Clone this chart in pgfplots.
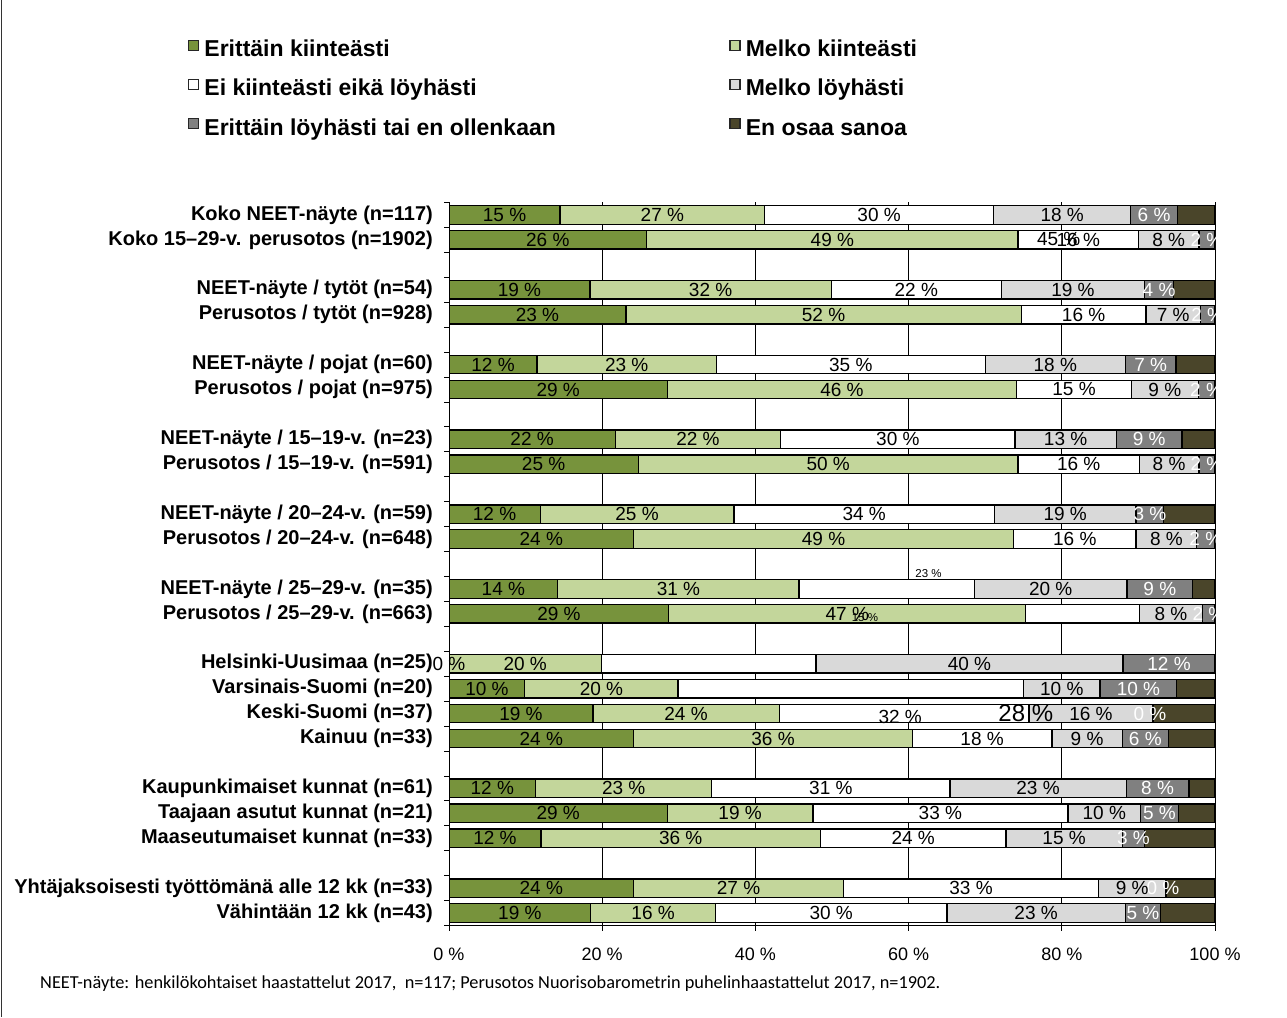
\documentclass[border=0pt]{standalone}
\usepackage{pgfplots}
\usepackage{pgfplotstable}
\pgfplotsset{compat=1.18}
\usepackage{fontspec}
\setmainfont{Liberation Sans}
\newfontfamily\carlito{Carlito}

\definecolor{cA}{HTML}{77933C}
\definecolor{cB}{HTML}{C3D69B}
\definecolor{cC}{HTML}{FFFFFF}
\definecolor{cD}{HTML}{D9D9D9}
\definecolor{cE}{HTML}{808080}
\definecolor{cF}{HTML}{4A452A}

% Erittain kiinteasti
\pgfplotstableread{
s v lab
0 14.5 {15 \%}
1 25.8 {26 \%}
3 18.4 {19 \%}
4 23.1 {23 \%}
6 11.5 {12 \%}
7 28.5 {29 \%}
9 21.7 {22 \%}
10 24.7 {25 \%}
12 11.9 {12 \%}
13 24.1 {24 \%}
15 14.2 {14 \%}
16 28.7 {29 \%}
18 0 {}
19 9.9 {10 \%}
20 18.8 {19 \%}
21 24.1 {24 \%}
23 11.3 {12 \%}
24 28.5 {29 \%}
25 12.0 {12 \%}
27 24.1 {24 \%}
28 18.5 {19 \%}
}\tA
% Melko kiinteasti
\pgfplotstableread{
s v lab
0 26.7 {27 \%}
1 48.5 {49 \%}
3 31.5 {32 \%}
4 51.6 {52 \%}
6 23.4 {23 \%}
7 45.6 {46 \%}
9 21.6 {22 \%}
10 49.6 {50 \%}
12 25.3 {25 \%}
13 49.6 {49 \%}
15 31.5 {31 \%}
16 46.6 {47 \%}
18 19.9 {20 \%}
19 20.0 {20 \%}
20 24.3 {24 \%}
21 36.4 {36 \%}
23 23.0 {23 \%}
24 19.0 {19 \%}
25 36.5 {36 \%}
27 27.4 {27 \%}
28 16.3 {16 \%}
}\tB
% Ei kiinteasti eika loyhasti
\pgfplotstableread{
s v lab
0 29.9 {30 \%}
1 15.7 {16 \%}
3 22.2 {22 \%}
4 16.3 {16 \%}
6 35.1 {35 \%}
7 15.0 {15 \%}
9 30.6 {30 \%}
10 15.8 {16 \%}
12 34.0 {34 \%}
13 16.0 {16 \%}
15 22.9 {}
16 14.8 {}
18 28.0 {}
19 45.1 {}
20 32.6 {}
21 18.2 {18 \%}
23 31.1 {31 \%}
24 33.3 {33 \%}
25 24.2 {24 \%}
27 33.3 {33 \%}
28 30.2 {30 \%}
}\tC
% Melko loyhasti
\pgfplotstableread{
s v lab
0 17.9 {18 \%}
1 7.9 {8 \%}
3 18.7 {19 \%}
4 7.1 {7 \%}
6 18.3 {18 \%}
7 8.7 {9 \%}
9 13.2 {13 \%}
10 7.8 {8 \%}
12 18.5 {19 \%}
13 7.9 {8 \%}
15 19.9 {20 \%}
16 8.3 {8 \%}
18 40.1 {40 \%}
19 10.0 {10 \%}
20 16.2 {16 \%}
21 9.2 {9 \%}
23 23.0 {23 \%}
24 9.5 {10 \%}
25 15.2 {15 \%}
27 8.8 {9 \%}
28 23.3 {23 \%}
}\tD
% Erittain loyhasti tai en ollenkaan
\pgfplotstableread{
s v lab
0 6.1 {6 \%}
1 2.1 {2 \%}
3 3.8 {4 \%}
4 1.9 {2 \%}
6 6.6 {7 \%}
7 2.2 {2 \%}
9 8.6 {9 \%}
10 2.1 {2 \%}
12 3.6 {3 \%}
13 2.4 {2 \%}
15 8.6 {9 \%}
16 1.6 {2 \%}
18 12.0 {12 \%}
19 10.0 {10 \%}
20 0 {}
21 6.0 {6 \%}
23 8.2 {8 \%}
24 4.9 {5 \%}
25 2.9 {3 \%}
27 0 {}
28 4.6 {5 \%}
}\tE
% En osaa sanoa
\pgfplotstableread{
s v lab
0 4.9 {}
1 0 {}
3 5.4 {}
4 0 {}
6 5.1 {}
7 0 {}
9 4.3 {}
10 0 {}
12 6.7 {}
13 0 {}
15 2.9 {}
16 0 {}
18 0 {}
19 5.0 {}
20 8.1 {}
21 6.1 {}
23 3.4 {}
24 4.8 {}
25 9.2 {}
27 6.4 {}
28 7.1 {}
}\tF

\tikzset{lbl/.style={font=\fontsize{19}{22}\selectfont, inner sep=0pt, text=#1}}
\pgfplotsset{
  geom/.style={at={(449pt,91pt)}, anchor=south west, scale only axis,
    width=766pt, height=723pt, xmin=0, xmax=100, ymin=-0.5, ymax=28.5,
    y dir=reverse, xbar stacked, bar width=18.5pt},
  sq/.style={legend image code/.code={\draw[##1, draw=black!85, line width=1.4pt] (0pt,0.5pt) rectangle (10pt,10.5pt);}},
  seg/.style={fill=#1, draw=black, line width=1.3pt, sq},
  lab/.style={draw=none, fill=none, nodes near coords, point meta=explicit symbolic,
    every node near coord/.append style={anchor=center, inner sep=0pt,
      font=\fontsize{19}{22}\selectfont, text=#1}},
}

\begin{document}
\begin{tikzpicture}
\path (0,0) rectangle (1287pt,1016pt);
\draw[line width=1pt, black!80] (1.5pt,0) -- (1.5pt,1016pt);
\begin{axis}[geom,
  axis x line*=bottom, axis y line*=left, axis line style={-, line width=1pt},
  tick align=outside, major tick length=5pt, tick style={black, line width=0.8pt},
  xtick={0,20,40,60,80,100},
  xticklabels={0 \%,20 \%,40 \%,60 \%,80 \%,100 \%},
  xticklabel style={font=\fontsize{18}{21}\selectfont, inner sep=0pt, yshift=-17pt},
  xmajorgrids, grid style={black, line width=0.8pt},
  ytick={-0.5,0.5,...,28.5}, yticklabels={},
  extra y ticks={0,1,3,4,6,7,9,10,12,13,15,16,18,19,20,21,23,24,25,27,28},
  extra y tick labels={Koko NEET-näyte (n=117),Koko 15–29-v. perusotos (n=1902),NEET-näyte / tytöt (n=54),Perusotos / tytöt (n=928),NEET-näyte / pojat (n=60),Perusotos / pojat (n=975),NEET-näyte / 15–19-v. (n=23),Perusotos / 15–19-v. (n=591),NEET-näyte / 20–24-v. (n=59),Perusotos / 20–24-v. (n=648),NEET-näyte / 25–29-v. (n=35),Perusotos / 25–29-v. (n=663),Helsinki-Uusimaa (n=25),Varsinais-Suomi (n=20),Keski-Suomi (n=37),Kainuu (n=33),Kaupunkimaiset kunnat (n=61),Taajaan asutut kunnat (n=21),Maaseutumaiset kunnat (n=33),Yhtäjaksoisesti työttömänä alle 12 kk (n=33),Vähintään 12 kk (n=43)},
  extra y tick style={major tick length=0pt, yticklabel style={font=\bfseries\fontsize{20}{24}\selectfont, inner sep=0pt, xshift=-16pt}},
  legend columns=2,
  legend cell align=left,
  legend style={at={(-0.3407,1.2254)}, anchor=north west, draw=none, fill=none,
    inner sep=0pt, outer sep=0pt, column sep=5pt, row sep=17pt,
    font=\bfseries\fontsize{23}{27}\selectfont,
    nodes={inner sep=0pt, text height=17pt, text depth=5pt}},
]
\addplot[seg=cA] table[x=v, y=s]{\tA};
\addlegendentry{\makebox[520pt][l]{Erittäin kiinteästi}}
\addplot[seg=cB] table[x=v, y=s]{\tB};
\addlegendentry{Melko kiinteästi}
\addplot[seg=cC] table[x=v, y=s]{\tC};
\addlegendentry{\makebox[520pt][l]{Ei kiinteästi eikä löyhästi}}
\addplot[seg=cD] table[x=v, y=s]{\tD};
\addlegendentry{Melko löyhästi}
\addplot[seg=cE] table[x=v, y=s]{\tE};
\addlegendentry{\makebox[520pt][l]{Erittäin löyhästi tai en ollenkaan}}
\addplot[seg=cF] table[x=v, y=s]{\tF};
\addlegendentry{En osaa sanoa}
\end{axis}
\begin{axis}[geom, hide axis, clip=false]
\addplot[lab=black] table[x=v, y=s, meta=lab]{\tA};
\addplot[lab=black] table[x=v, y=s, meta=lab]{\tB};
\addplot[lab=black] table[x=v, y=s, meta=lab]{\tC};
\addplot[lab=black] table[x=v, y=s, meta=lab]{\tD};
\addplot[lab=white] table[x=v, y=s, meta=lab]{\tE};
\addplot[draw=none, fill=none] table[x=v, y=s]{\tF};
% labels of zero-width segments and misplaced labels as in the original
\node[lbl=black] at (axis cs:0,18) {0 \%};
\node[lbl=white] at (axis cs:91.5,20) {0 \%};
\node[lbl=white] at (axis cs:93.2,27) {0 \%};
\node[lbl=black] at (axis cs:58.9,20.15) {32 \%};
\node[lbl=black] at (axis cs:79.6,0.97) {45 \%};
\node[font=\fontsize{24}{28}\selectfont, inner sep=0pt] at (axis cs:75.3,20) {28 \%};
\node[font=\fontsize{11.5}{14}\selectfont, inner sep=0pt] at (axis cs:62.6,14.4) {23 \%};
\node[font=\fontsize{11.5}{14}\selectfont, inner sep=0pt] at (axis cs:54.3,16.15) {15 \%};
\end{axis}
\node[anchor=base west, inner sep=0pt, font=\carlito\fontsize{18.3}{21}\selectfont] at (40pt,28pt) {NEET-näyte: henkilökohtaiset haastattelut 2017,\ \ n=117; Perusotos Nuorisobarometrin puhelinhaastattelut 2017, n=1902.};
\end{tikzpicture}
\end{document}
